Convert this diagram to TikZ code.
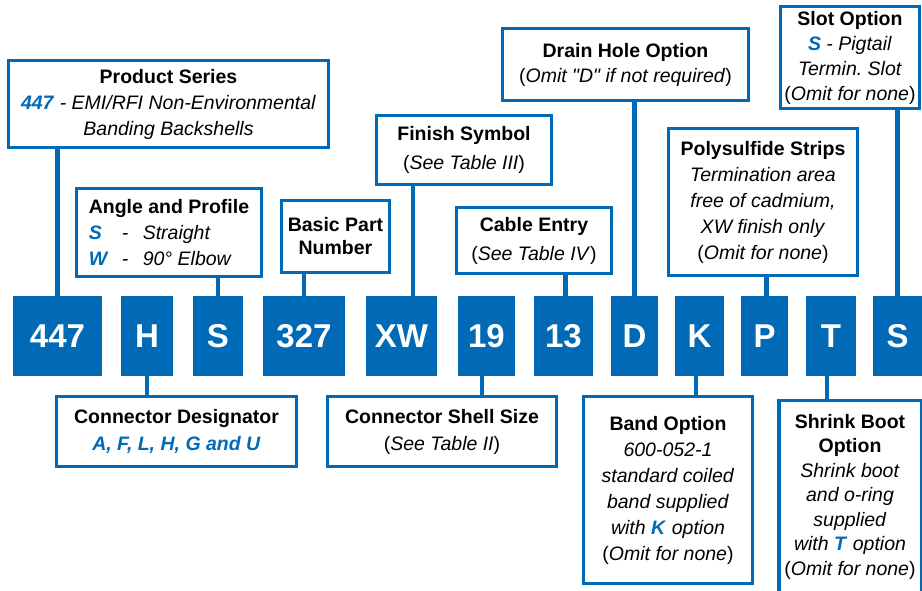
\documentclass[tikz,border=0pt]{standalone}
\usepackage{fontspec}
\setmainfont{Liberation Sans}
\usepackage{xcolor}
\usepackage{tikz}
\definecolor{partblue}{RGB}{0,106,182}
\newcommand{\hl}[1]{\textcolor{partblue}{\textbf{\textit{#1}}}}
\frenchspacing

\begin{document}
\begin{tikzpicture}[x=1pt,y=-1pt,
    codebox/.style={fill=partblue,text=white,inner sep=0pt,minimum height=80pt,
        font=\fontsize{33}{33}\selectfont\bfseries},
    callout/.style={draw=partblue,line width=3.2pt,fill=white,align=center,inner sep=0pt,
        font=\fontsize{19.5}{26}\selectfont},
    wire/.style={partblue,line width=4.5pt}]
    \useasboundingbox (0,0) rectangle (922,591);
    % part number code boxes
    \node[codebox,minimum width=89pt] (c447) at (57.5,336) {447};
    \node[codebox,minimum width=52pt] (cH) at (147,336) {H};
    \node[codebox,minimum width=50pt] (cS) at (218,336) {S};
    \node[codebox,minimum width=82pt] (c327) at (304,336) {327};
    \node[codebox,minimum width=71pt] (cXW) at (401.5,336) {XW};
    \node[codebox,minimum width=57pt] (c19) at (486.5,336) {19};
    \node[codebox,minimum width=59pt] (c13) at (563.5,336) {13};
    \node[codebox,minimum width=47pt] (cD) at (634.5,336) {D};
    \node[codebox,minimum width=49pt] (cK) at (699.5,336) {K};
    \node[codebox,minimum width=47pt] (cP) at (764.5,336) {P};
    \node[codebox,minimum width=50pt] (cT) at (831,336) {T};
    \node[codebox,minimum width=49pt] (cSlot) at (897.5,336) {S};
    % callouts above
    \node[callout,minimum width=320pt,minimum height=87pt] (series) at (168.5,104)
        {\textbf{Product Series}\\ \hl{447} \textit{- EMI/RFI Non-Environmental}\\ \textit{Banding Backshells}};
    \node[callout,align=left,minimum width=185pt,minimum height=88pt] (angle) at (169,232.5)
        {\textbf{Angle and Profile}\\
         \makebox[33pt][l]{\hl{S}}\makebox[21pt][l]{\textit{-}}\textit{Straight}\\
         \makebox[33pt][l]{\hl{W}}\makebox[21pt][l]{\textit{-}}\textit{90° Elbow}};
    \node[callout,font=\fontsize{19.5}{23}\selectfont\bfseries,minimum width=108pt,minimum height=72pt] (basic) at (335.5,236.5)
        {Basic Part\\ Number};
    \node[callout,font=\fontsize{19.5}{29}\selectfont,minimum width=175pt,minimum height=69pt] (finish) at (464,150)
        {\textbf{Finish Symbol}\\ (\textit{See Table III})};
    \node[callout,font=\fontsize{19.5}{29}\selectfont,minimum width=155pt,minimum height=66pt] (entry) at (534,240.5)
        {\textbf{Cable Entry}\\ (\textit{See Table IV})};
    \node[callout,font=\fontsize{19.5}{25}\selectfont,minimum width=246pt,minimum height=72pt] (drain) at (625.5,64.5)
        {\textbf{Drain Hole Option}\\ (\textit{Omit \textquotedbl D\textquotedbl\ if not required})};
    \node[callout,minimum width=189pt,minimum height=147pt] (poly) at (763,202)
        {\textbf{Polysulfide Strips}\\ \textit{Termination area}\\ \textit{free of cadmium,}\\
         \textit{XW finish only}\\ (\textit{Omit for none})};
    \node[callout,font=\fontsize{19.5}{25}\selectfont,minimum width=139pt,minimum height=102pt] (slot) at (850,57.5)
        {\textbf{Slot Option}\\ \hl{S} \textit{- Pigtail}\\ \textit{Termin. Slot}\\ (\textit{Omit for none})};
    % callouts below
    \node[callout,font=\fontsize{19.5}{27}\selectfont,minimum width=240pt,minimum height=70pt] (desig) at (176.5,431.5)
        {\textbf{Connector Designator}\\ \hl{A, F, L, H, G and U}};
    \node[callout,font=\fontsize{19.5}{27}\selectfont,minimum width=229pt,minimum height=70pt] (shell) at (442,431.5)
        {\textbf{Connector Shell Size}\\ (\textit{See Table II})};
    \node[callout,minimum width=169pt,minimum height=187pt] (band) at (668,490)
        {\textbf{Band Option}\\ \textit{600-052-1}\\ \textit{standard coiled}\\ \textit{band supplied}\\
         \textit{with} \hl{K} \textit{option}\\ (\textit{Omit for none})};
    \node[callout,draw=none,font=\fontsize{19.5}{24.5}\selectfont,minimum width=139pt,minimum height=189pt] (shrink) at (850,496.5)
        {\textbf{Shrink Boot}\\ \textbf{Option}\\ \textit{Shrink boot}\\ \textit{and o-ring}\\ \textit{supplied}\\
         \textit{with} \hl{T} \textit{option}\\ (\textit{Omit for none})};
    \draw[partblue,line width=3.2pt] (shrink.west |- 0,591) |- (shrink.north east) -- (shrink.east |- 0,591);
    % connectors
    \draw[wire] (c447.north) -- (c447.north |- series.south);
    \draw[wire] (cS.north) -- (cS.north |- angle.south);
    \draw[wire] (c327.north) -- (c327.north |- basic.south);
    \draw[wire] ([xshift=11.5pt]cXW.north) -- ([xshift=11.5pt]cXW.north |- finish.south);
    \draw[wire] ([xshift=2pt]c13.north) -- ([xshift=2pt]c13.north |- entry.south);
    \draw[wire] (cD.north) -- (cD.north |- drain.south);
    \draw[wire] ([xshift=2pt]cP.north) -- ([xshift=2pt]cP.north |- poly.south);
    \draw[wire] (cSlot.north) -- (cSlot.north |- slot.south);
    \draw[wire] (cH.south) -- (cH.south |- desig.north);
    \draw[wire] ([xshift=-4.5pt]c19.south) -- ([xshift=-4.5pt]c19.south |- shell.north);
    \draw[wire] ([xshift=-3.5pt]cK.south) -- ([xshift=-3.5pt]cK.south |- band.north);
    \draw[wire] ([xshift=-4pt]cT.south) -- ([xshift=-4pt]cT.south |- shrink.north);
\end{tikzpicture}
\end{document}
